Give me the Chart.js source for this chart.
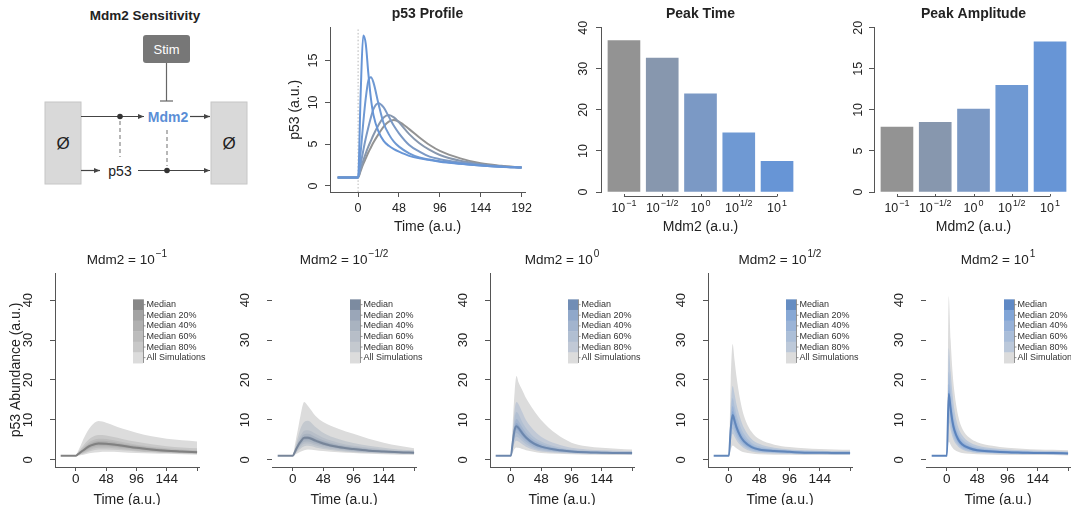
<!DOCTYPE html>
<html>
<head>
<meta charset="utf-8">
<title>Mdm2 sensitivity</title>
<script src="https://cdn.jsdelivr.net/npm/chart.js@4.4.1/dist/chart.umd.min.js"></script>
<style>
  html, body { margin: 0; padding: 0; background: #fff; }
  body { position: relative; width: 1071px; height: 505px; overflow: hidden; font-family: 'Liberation Sans', Arial, sans-serif; }
  canvas, svg { position: absolute; }
</style>
</head>
<body>

<svg id="diagram" width="270" height="235" style="left:0;top:0">
  <defs>
    <marker id="arr" viewBox="0 0 6 6" refX="6" refY="3" markerWidth="6" markerHeight="6" orient="auto" markerUnits="userSpaceOnUse">
      <path d="M0,0.5 L6,3 L0,5.5 z" fill="#444"/>
    </marker>
  </defs>
  <text x="145" y="20" text-anchor="middle" font-weight="bold" font-size="13.5" fill="#222">Mdm2 Sensitivity</text>
  <rect x="143" y="35" width="47" height="28" rx="3" fill="#777"/>
  <text x="166.5" y="54" text-anchor="middle" font-size="13" fill="#fff">Stim</text>
  <line x1="166.5" y1="63" x2="166.5" y2="101" stroke="#666" stroke-width="1.2"/>
  <line x1="160" y1="101" x2="173" y2="101" stroke="#666" stroke-width="1.2"/>
  <rect x="45" y="102" width="36" height="82" fill="#d9d9d9" stroke="#c6c6c6"/>
  <text x="63" y="149" text-anchor="middle" font-size="17" fill="#222">Ø</text>
  <rect x="211" y="102" width="36" height="82" fill="#d9d9d9" stroke="#c6c6c6"/>
  <text x="229" y="149" text-anchor="middle" font-size="17" fill="#222">Ø</text>
  <line x1="81" y1="116.5" x2="144" y2="116.5" stroke="#444" stroke-width="1.2" marker-end="url(#arr)"/>
  <circle cx="120" cy="116.5" r="2.8" fill="#333"/>
  <text x="168" y="121.5" text-anchor="middle" font-weight="bold" font-size="14" fill="#5b8ed6">Mdm2</text>
  <line x1="190" y1="116.5" x2="210" y2="116.5" stroke="#444" stroke-width="1.2" marker-end="url(#arr)"/>
  <line x1="81" y1="170.5" x2="100" y2="170.5" stroke="#444" stroke-width="1.2" marker-end="url(#arr)"/>
  <text x="120" y="175.5" text-anchor="middle" font-size="14" fill="#222">p53</text>
  <line x1="138" y1="170.5" x2="210" y2="170.5" stroke="#444" stroke-width="1.2" marker-end="url(#arr)"/>
  <circle cx="167" cy="170.5" r="2.8" fill="#333"/>
  <line x1="120" y1="121" x2="120" y2="157" stroke="#888" stroke-width="1.2" stroke-dasharray="4 3"/>
  <line x1="167" y1="130" x2="167" y2="166" stroke="#888" stroke-width="1.2" stroke-dasharray="4 3"/>
</svg>

<canvas id="profile" width="270" height="238" style="left:270px;top:0"></canvas>
<canvas id="peakTime" width="265" height="238" style="left:540px;top:0"></canvas>
<canvas id="peakAmp" width="265" height="238" style="left:810px;top:0"></canvas>
<canvas id="band0" width="218" height="270" style="left:0;top:240px"></canvas>
<canvas id="band1" width="218" height="270" style="left:217px;top:240px"></canvas>
<canvas id="band2" width="218" height="270" style="left:435px;top:240px"></canvas>
<canvas id="band3" width="218" height="270" style="left:653px;top:240px"></canvas>
<canvas id="band4" width="218" height="270" style="left:871px;top:240px"></canvas>

<script>
const FONT = "'Liberation Sans', Arial, Helvetica, sans-serif";
Chart.defaults.font.family = FONT;
Chart.defaults.color = '#222';
const AXIS = '#555';

// ---- Mdm2 levels (10^exp) ----
const mdm2Exponents = ['\u22121', '\u22121/2', '0', '1/2', '1'];
const mdm2Colors = ['#939393', '#8797ae', '#7b99c5', '#6f99d3', '#6795d6'];

// ---- bar panels ----
const peakTime = [36.9, 32.6, 23.9, 14.4, 7.5];
const peakAmplitude = [7.9, 8.5, 10.1, 13.0, 18.3];
const peakTimeTicks = [0, 10, 20, 30, 40];
const peakAmpTicks = [0, 5, 10, 15, 20];

// ---- p53 profile (deterministic) ----
const timeTicks = [0, 48, 96, 144, 192];
const profileYTicks = [0, 5, 10, 15];
const stimTime = 0;
const profileTime    = [-24, 0, 3, 6, 9, 12, 15, 18, 24, 30, 36, 42, 48, 60, 72, 84, 96, 120, 144, 168, 192];
const profileNeg1    = [1, 1, 1.8, 2.6, 3.3, 4.0, 4.6, 5.2, 6.2, 7.1, 7.7, 7.9, 7.7, 6.8, 5.8, 4.9, 4.2, 3.3, 2.7, 2.4, 2.2];
const profileNegHalf = [1, 1, 2.0, 3.0, 3.9, 4.7, 5.4, 6.1, 7.3, 8.2, 8.5, 8.2, 7.6, 6.2, 5.1, 4.3, 3.7, 3.0, 2.6, 2.35, 2.2];
const profileZero    = [1, 1, 2.6, 4.2, 5.7, 7.0, 8.2, 9.2, 9.9, 9.4, 8.3, 7.2, 6.3, 4.9, 4.1, 3.5, 3.2, 2.8, 2.5, 2.3, 2.2];
const profileHalf    = [1, 1, 4.0, 7.5, 10.5, 12.6, 13.0, 12.4, 9.8, 7.5, 6.2, 5.3, 4.7, 3.9, 3.4, 3.15, 2.95, 2.65, 2.45, 2.3, 2.2];
const profileOne     = [1, 1, 11.0, 18.0, 17.0, 13.5, 10.5, 8.5, 6.5, 5.4, 4.8, 4.4, 4.1, 3.6, 3.3, 3.1, 2.9, 2.65, 2.45, 2.3, 2.2];

// ---- stochastic simulations: median and quantile bands ----
const bandNames = ['Median', 'Median 20%', 'Median 40%', 'Median 60%', 'Median 80%', 'All Simulations'];
const bandYTicks = [0, 10, 20, 30, 40];
const bandTime = [-24, 0, 3, 6, 9, 12, 18, 24, 36, 48, 72, 96, 120, 144, 168, 192];

const neg1AllHi  = [1, 1, 2.0, 3.0, 4.1, 5.2, 7.0, 8.4, 9.7, 9.3, 7.9, 6.8, 5.9, 5.3, 4.9, 4.6];
const neg1P80Hi  = [1, 1, 1.7, 2.4, 3.0, 3.6, 4.7, 5.5, 6.2, 6.1, 5.3, 4.5, 3.9, 3.4, 3.1, 2.9];
const neg1P60Hi  = [1, 1, 1.6, 2.1, 2.6, 3.1, 4.0, 4.7, 5.3, 5.2, 4.5, 3.8, 3.3, 2.9, 2.6, 2.4];
const neg1P40Hi  = [1, 1, 1.5, 1.9, 2.4, 2.8, 3.6, 4.2, 4.8, 4.7, 4.1, 3.5, 3.0, 2.6, 2.3, 2.2];
const neg1P20Hi  = [1, 1, 1.4, 1.8, 2.2, 2.6, 3.3, 3.9, 4.4, 4.3, 3.8, 3.2, 2.8, 2.4, 2.2, 2.0];
const neg1Median = [1, 1, 1.35, 1.7, 2.1, 2.4, 3.1, 3.6, 4.1, 4.0, 3.6, 3.0, 2.6, 2.3, 2.1, 1.9];
const neg1P20Lo  = [1, 1, 1.3, 1.6, 1.9, 2.2, 2.8, 3.3, 3.8, 3.7, 3.3, 2.8, 2.4, 2.1, 1.9, 1.8];
const neg1P40Lo  = [1, 1, 1.25, 1.5, 1.8, 2.0, 2.5, 3.0, 3.4, 3.4, 3.0, 2.6, 2.2, 2.0, 1.8, 1.7];
const neg1P60Lo  = [1, 1, 1.2, 1.4, 1.6, 1.8, 2.2, 2.6, 3.0, 3.0, 2.7, 2.3, 2.0, 1.8, 1.7, 1.6];
const neg1P80Lo  = [1, 1, 1.15, 1.3, 1.5, 1.6, 1.9, 2.2, 2.6, 2.6, 2.4, 2.1, 1.9, 1.7, 1.6, 1.5];
const neg1AllLo  = [1, 1, 1.05, 1.1, 1.2, 1.3, 1.5, 1.7, 1.9, 2.0, 1.9, 1.7, 1.6, 1.5, 1.4, 1.3];

const negHalfAllHi  = [1, 1, 3.5, 6.0, 8.5, 11.0, 14.5, 13.5, 11.0, 9.5, 7.8, 6.5, 5.3, 4.3, 3.5, 2.9];
const negHalfP80Hi  = [1, 1, 2.6, 4.5, 6.2, 7.8, 9.5, 9.8, 8.2, 6.8, 5.2, 4.2, 3.5, 3.0, 2.6, 2.4];
const negHalfP60Hi  = [1, 1, 2.3, 3.8, 5.0, 6.0, 7.3, 7.4, 6.5, 5.5, 4.3, 3.5, 3.0, 2.6, 2.3, 2.1];
const negHalfP40Hi  = [1, 1, 2.1, 3.4, 4.4, 5.3, 6.4, 6.5, 5.7, 4.9, 3.8, 3.2, 2.7, 2.4, 2.1, 2.0];
const negHalfP20Hi  = [1, 1, 2.0, 3.1, 4.0, 4.8, 5.8, 5.9, 5.2, 4.5, 3.5, 2.9, 2.5, 2.2, 2.0, 1.9];
const negHalfMedian = [1, 1, 1.9, 2.9, 3.8, 4.5, 5.5, 5.5, 4.8, 4.1, 3.2, 2.7, 2.3, 2.1, 1.9, 1.8];
const negHalfP20Lo  = [1, 1, 1.8, 2.7, 3.5, 4.1, 5.0, 5.1, 4.4, 3.8, 3.0, 2.5, 2.2, 2.0, 1.8, 1.7];
const negHalfP40Lo  = [1, 1, 1.7, 2.5, 3.2, 3.7, 4.5, 4.6, 4.0, 3.5, 2.8, 2.3, 2.0, 1.9, 1.7, 1.6];
const negHalfP60Lo  = [1, 1, 1.6, 2.2, 2.8, 3.3, 4.0, 4.1, 3.6, 3.1, 2.5, 2.1, 1.9, 1.7, 1.6, 1.5];
const negHalfP80Lo  = [1, 1, 1.4, 1.9, 2.4, 2.8, 3.4, 3.5, 3.1, 2.7, 2.2, 1.9, 1.7, 1.6, 1.5, 1.4];
const negHalfAllLo  = [1, 1, 1.2, 1.5, 1.8, 2.0, 2.4, 2.6, 2.4, 2.2, 1.9, 1.7, 1.5, 1.4, 1.3, 1.3];

const zeroAllHi  = [1, 1, 9.0, 17.0, 21.0, 19.5, 17.5, 15.5, 12.5, 10.0, 6.5, 4.3, 3.4, 3.0, 2.8, 2.6];
const zeroP80Hi  = [1, 1, 7.0, 12.5, 14.5, 14.0, 12.0, 10.0, 7.5, 5.8, 4.0, 3.0, 2.6, 2.4, 2.3, 2.2];
const zeroP60Hi  = [1, 1, 6.0, 10.5, 12.0, 11.5, 9.5, 8.0, 5.8, 4.6, 3.3, 2.6, 2.3, 2.1, 2.0, 2.0];
const zeroP40Hi  = [1, 1, 5.3, 9.0, 10.2, 9.8, 8.2, 6.8, 5.0, 4.0, 2.9, 2.4, 2.1, 2.0, 1.9, 1.9];
const zeroP20Hi  = [1, 1, 4.8, 8.2, 9.2, 8.8, 7.4, 6.1, 4.5, 3.6, 2.7, 2.3, 2.0, 1.9, 1.8, 1.8];
const zeroMedian = [1, 1, 4.4, 7.5, 8.4, 8.0, 6.7, 5.6, 4.1, 3.3, 2.5, 2.1, 1.9, 1.8, 1.7, 1.7];
const zeroP20Lo  = [1, 1, 4.0, 6.8, 7.6, 7.2, 6.0, 5.0, 3.7, 3.0, 2.3, 2.0, 1.8, 1.7, 1.6, 1.6];
const zeroP40Lo  = [1, 1, 3.6, 6.0, 6.7, 6.4, 5.4, 4.5, 3.3, 2.7, 2.1, 1.9, 1.7, 1.6, 1.6, 1.5];
const zeroP60Lo  = [1, 1, 3.1, 5.2, 5.8, 5.6, 4.7, 3.9, 2.9, 2.4, 2.0, 1.7, 1.6, 1.5, 1.5, 1.4];
const zeroP80Lo  = [1, 1, 2.6, 4.3, 4.8, 4.6, 3.9, 3.3, 2.5, 2.1, 1.8, 1.6, 1.5, 1.4, 1.4, 1.3];
const zeroAllLo  = [1, 1, 1.8, 2.8, 3.1, 3.0, 2.7, 2.4, 2.0, 1.7, 1.5, 1.4, 1.3, 1.3, 1.2, 1.2];

const halfAllHi  = [1, 1, 20.0, 29.0, 25.0, 21.0, 15.0, 11.0, 7.0, 5.2, 3.8, 3.2, 2.9, 2.7, 2.6, 2.5];
const halfP80Hi  = [1, 1, 13.0, 18.5, 16.5, 14.0, 10.5, 8.0, 5.2, 4.0, 3.0, 2.6, 2.4, 2.3, 2.2, 2.2];
const halfP60Hi  = [1, 1, 11.0, 15.5, 13.5, 11.5, 8.5, 6.5, 4.3, 3.4, 2.7, 2.4, 2.2, 2.1, 2.0, 2.0];
const halfP40Hi  = [1, 1, 9.5, 13.5, 11.8, 10.0, 7.3, 5.6, 3.8, 3.0, 2.5, 2.2, 2.0, 1.9, 1.9, 1.9];
const halfP20Hi  = [1, 1, 8.5, 12.2, 10.7, 9.0, 6.6, 5.0, 3.5, 2.8, 2.3, 2.1, 1.9, 1.8, 1.8, 1.8];
const halfMedian = [1, 1, 7.8, 11.2, 9.8, 8.2, 6.0, 4.6, 3.2, 2.6, 2.2, 2.0, 1.8, 1.8, 1.7, 1.7];
const halfP20Lo  = [1, 1, 7.0, 10.2, 8.9, 7.5, 5.5, 4.2, 3.0, 2.4, 2.0, 1.9, 1.7, 1.7, 1.6, 1.6];
const halfP40Lo  = [1, 1, 6.2, 9.0, 7.9, 6.7, 4.9, 3.8, 2.7, 2.2, 1.9, 1.8, 1.6, 1.6, 1.5, 1.5];
const halfP60Lo  = [1, 1, 5.3, 7.8, 6.9, 5.8, 4.3, 3.4, 2.4, 2.0, 1.8, 1.6, 1.5, 1.5, 1.4, 1.4];
const halfP80Lo  = [1, 1, 4.3, 6.5, 5.8, 4.9, 3.7, 2.9, 2.1, 1.8, 1.6, 1.5, 1.4, 1.4, 1.3, 1.3];
const halfAllLo  = [1, 1, 2.5, 3.6, 3.3, 2.9, 2.3, 1.9, 1.6, 1.4, 1.3, 1.3, 1.2, 1.2, 1.2, 1.2];

const oneAllHi  = [1, 1, 41.0, 30.0, 22.0, 17.0, 11.0, 8.0, 5.5, 4.4, 3.5, 3.0, 2.8, 2.6, 2.5, 2.4];
const oneP80Hi  = [1, 1, 28.0, 22.0, 16.5, 12.5, 8.2, 6.2, 4.4, 3.6, 2.9, 2.6, 2.4, 2.3, 2.2, 2.1];
const oneP60Hi  = [1, 1, 22.0, 17.5, 13.0, 10.0, 6.8, 5.2, 3.8, 3.1, 2.6, 2.3, 2.2, 2.1, 2.0, 1.9];
const oneP40Hi  = [1, 1, 19.0, 15.0, 11.3, 8.8, 6.0, 4.6, 3.4, 2.8, 2.4, 2.2, 2.0, 1.9, 1.9, 1.8];
const oneP20Hi  = [1, 1, 17.5, 13.8, 10.3, 8.0, 5.5, 4.2, 3.1, 2.6, 2.2, 2.0, 1.9, 1.8, 1.8, 1.7];
const oneMedian = [1, 1, 16.5, 12.8, 9.5, 7.4, 5.1, 3.9, 2.9, 2.4, 2.1, 1.9, 1.8, 1.7, 1.7, 1.6];
const oneP20Lo  = [1, 1, 15.0, 11.7, 8.7, 6.8, 4.7, 3.6, 2.7, 2.3, 2.0, 1.8, 1.7, 1.6, 1.6, 1.5];
const oneP40Lo  = [1, 1, 13.5, 10.5, 7.8, 6.1, 4.3, 3.3, 2.5, 2.1, 1.9, 1.7, 1.6, 1.5, 1.5, 1.5];
const oneP60Lo  = [1, 1, 11.5, 9.0, 6.8, 5.3, 3.8, 2.9, 2.3, 1.9, 1.7, 1.6, 1.5, 1.5, 1.4, 1.4];
const oneP80Lo  = [1, 1, 9.5, 7.5, 5.7, 4.5, 3.3, 2.6, 2.0, 1.7, 1.6, 1.5, 1.4, 1.4, 1.3, 1.3];
const oneAllLo  = [1, 1, 4.5, 3.8, 3.0, 2.5, 2.0, 1.7, 1.5, 1.4, 1.3, 1.2, 1.2, 1.2, 1.2, 1.1];

// ---- helpers ----
const pts = (xs, ys) => xs.map((x, i) => ({ x, y: ys[i] }));
const asTicks = vals => s => { s.ticks = vals.map(v => ({ value: v })); };

function hexToRgb(h) {
    const n = parseInt(h.slice(1), 16);
    return [n >> 16, (n >> 8) & 255, n & 255];
}
function mix(h, target, t) {
    const a = hexToRgb(h), b = hexToRgb(target);
    return 'rgb(' + a.map((v, i) => Math.round(v + (b[i] - v) * t)).join(',') + ')';
}

// text with a raised exponent, centred on cx
function drawPower(ctx, base, exp, cx, cy, size, weight) {
    const w = weight || 'normal';
    const big = `${w} ${size}px ${FONT}`;
    const small = `${w} ${Math.round(size * 0.72)}px ${FONT}`;
    ctx.save();
    ctx.fillStyle = '#222';
    ctx.textBaseline = 'middle';
    ctx.textAlign = 'left';
    ctx.font = big;
    const w1 = ctx.measureText(base).width;
    ctx.font = small;
    const w2 = ctx.measureText(exp).width;
    const x0 = cx - (w1 + 1 + w2) / 2;
    ctx.font = big;
    ctx.fillText(base, x0, cy);
    ctx.font = small;
    ctx.fillText(exp, x0 + w1 + 1, cy - size * 0.42);
    ctx.restore();
}

const panelDecor = {
    id: 'panelDecor',
    afterDraw(chart, args, o) {
        const { ctx, chartArea: a, scales: { x, y } } = chart;
        if (o.title) {
            drawPower(ctx, o.title.base, o.title.exp, (a.left + a.right) / 2, o.title.y, o.title.size);
        }
        if (o.powerTicks) {
            // R-style axis line from first to last bar
            ctx.save();
            ctx.strokeStyle = AXIS;
            ctx.lineWidth = 1;
            ctx.beginPath();
            ctx.moveTo(x.getPixelForValue(1), a.bottom + 4.5);
            ctx.lineTo(x.getPixelForValue(o.powerTicks.length), a.bottom + 4.5);
            o.powerTicks.forEach((e, i) => {
                const px = Math.round(x.getPixelForValue(i + 1)) + 0.5;
                ctx.moveTo(px, a.bottom + 4.5);
                ctx.lineTo(px, a.bottom + 2);
            });
            ctx.stroke();
            ctx.restore();
            o.powerTicks.forEach((e, i) => drawPower(ctx, '10', e, x.getPixelForValue(i + 1), a.bottom + 17, 12.5));
        }
        if (o.legend) {
            const left = Math.round(x.getPixelForValue(90));
            const top = y.getPixelForValue(40.2);
            const rowH = 10.6;
            ctx.save();
            o.legend.forEach((c, i) => {
                ctx.fillStyle = c;
                ctx.fillRect(left, top + i * rowH, 10, rowH + 0.5);
            });
            ctx.strokeStyle = '#777';
            ctx.lineWidth = 0.8;
            ctx.beginPath();
            ctx.moveTo(left + 10.5, top);
            ctx.lineTo(left + 10.5, top + bandNames.length * rowH);
            bandNames.forEach((n, i) => {
                ctx.moveTo(left + 10.5, top + (i + 0.5) * rowH);
                ctx.lineTo(left + 12.5, top + (i + 0.5) * rowH);
            });
            ctx.stroke();
            ctx.fillStyle = '#333';
            ctx.font = `9px ${FONT}`;
            ctx.textBaseline = 'middle';
            bandNames.forEach((n, i) => ctx.fillText(n, left + 13.5, top + (i + 0.5) * rowH));
            ctx.restore();
        }
    }
};

function yScale({ min, max, ticks, width, pad, size, title, titlePad, border = true }) {
    return {
        type: 'linear', min, max,
        afterBuildTicks: asTicks(ticks),
        afterFit: s => { s.width = width; },
        border: { display: border, color: AXIS },
        grid: { drawOnChartArea: false, tickLength: 5, color: AXIS },
        ticks: { minRotation: 90, maxRotation: 90, crossAlign: 'center', padding: pad, font: { size }, color: '#222' },
        title: title
            ? { display: true, text: title, font: { size: 14 }, color: '#222', padding: { top: titlePad, bottom: 0 } }
            : { display: false }
    };
}

const baseOptions = {
    responsive: false,
    maintainAspectRatio: false,
    devicePixelRatio: 1,
    animation: false,
    events: [],
    plugins: { legend: { display: false }, tooltip: { enabled: false } }
};

// ---- p53 profile ----
const profileSeries = [profileNeg1, profileNegHalf, profileZero, profileHalf, profileOne];
new Chart(document.getElementById('profile'), {
    type: 'line',
    data: {
        datasets: [
            ...profileSeries.map((s, i) => ({ data: pts(profileTime, s), borderColor: mdm2Colors[i], borderWidth: 2 })).reverse(),
            { data: pts([stimTime, stimTime], [-0.73, 18.93]), borderColor: '#b5b5b5', borderWidth: 1, borderDash: [1.5, 2] }
        ]
    },
    options: {
        ...baseOptions,
        layout: { padding: { left: 0, right: 15, top: 0, bottom: 0 } },
        elements: { point: { radius: 0 }, line: { cubicInterpolationMode: 'monotone', fill: false } },
        plugins: {
            ...baseOptions.plugins,
            title: { display: true, fullSize: false, text: 'p53 Profile', color: '#222', font: { size: 14, weight: 'bold' }, padding: { top: 6, bottom: 5 } }
        },
        scales: {
            x: {
                type: 'linear', min: -33, max: 196,
                afterBuildTicks: asTicks(timeTicks),
                afterFit: s => { s.height = 46; },
                border: { color: AXIS },
                grid: { drawOnChartArea: false, tickLength: 5, color: AXIS },
                ticks: { maxRotation: 0, padding: 4, font: { size: 12.5 }, color: '#222' },
                title: { display: true, text: 'Time (a.u.)', font: { size: 14 }, color: '#222', padding: { top: 0, bottom: 2 } }
            },
            y: yScale({ min: -0.73, max: 18.93, ticks: profileYTicks, width: 60, pad: 5, size: 12.5, title: 'p53 (a.u.)', titlePad: 17 })
        }
    }
});

// ---- peak bar charts ----
function barChart(id, title, values, yMax, yTicks, yWidth, yPad, rightPad) {
    new Chart(document.getElementById(id), {
        type: 'bar',
        data: {
            datasets: [{
                data: values.map((v, i) => ({ x: i + 1, y: v })),
                backgroundColor: mdm2Colors,
                borderWidth: 0,
                barThickness: 32
            }]
        },
        plugins: [panelDecor],
        options: {
            ...baseOptions,
            layout: { padding: { left: 0, right: rightPad, top: 0, bottom: 0 } },
            plugins: {
                ...baseOptions.plugins,
                title: { display: true, fullSize: false, text: title, color: '#222', font: { size: 14, weight: 'bold' }, padding: { top: 6, bottom: 5 } },
                panelDecor: { powerTicks: mdm2Exponents }
            },
            scales: {
                x: {
                    type: 'linear', min: 0.4, max: 5.6, offset: false,
                    afterBuildTicks: asTicks([1, 2, 3, 4, 5]),
                    afterFit: s => { s.height = 46; },
                    border: { display: false },
                    grid: { display: false, offset: false },
                    ticks: { callback: () => '', padding: 0 },
                    title: { display: true, text: 'Mdm2 (a.u.)', font: { size: 14 }, color: '#222', padding: { top: 0, bottom: 2 } }
                },
                y: yScale({ min: 0, max: yMax, ticks: yTicks, width: yWidth, pad: yPad, size: 12.5 })
            }
        }
    });
}
barChart('peakTime', 'Peak Time', peakTime, 40, peakTimeTicks, 61, 6, 5);
barChart('peakAmp', 'Peak Amplitude', peakAmplitude, 20, peakAmpTicks, 64, 4, 2);

// ---- simulation band panels ----
const bandPanels = [
    { median: neg1Median, bands: [[neg1P20Lo, neg1P20Hi], [neg1P40Lo, neg1P40Hi], [neg1P60Lo, neg1P60Hi], [neg1P80Lo, neg1P80Hi], [neg1AllLo, neg1AllHi]], yTitle: 'p53 Abundance (a.u.)', yBorder: true },
    { median: negHalfMedian, bands: [[negHalfP20Lo, negHalfP20Hi], [negHalfP40Lo, negHalfP40Hi], [negHalfP60Lo, negHalfP60Hi], [negHalfP80Lo, negHalfP80Hi], [negHalfAllLo, negHalfAllHi]], yBorder: false },
    { median: zeroMedian, bands: [[zeroP20Lo, zeroP20Hi], [zeroP40Lo, zeroP40Hi], [zeroP60Lo, zeroP60Hi], [zeroP80Lo, zeroP80Hi], [zeroAllLo, zeroAllHi]], yBorder: true },
    { median: halfMedian, bands: [[halfP20Lo, halfP20Hi], [halfP40Lo, halfP40Hi], [halfP60Lo, halfP60Hi], [halfP80Lo, halfP80Hi], [halfAllLo, halfAllHi]], yBorder: true },
    { median: oneMedian, bands: [[oneP20Lo, oneP20Hi], [oneP40Lo, oneP40Hi], [oneP60Lo, oneP60Hi], [oneP80Lo, oneP80Hi], [oneAllLo, oneAllHi]], yBorder: false }
];

bandPanels.forEach((p, idx) => {
    const base = mdm2Colors[idx];
    const shades = [
        mix(base, '#000000', 0.08),
        mix(base, '#dcdcdc', 0.22),
        mix(base, '#dcdcdc', 0.40),
        mix(base, '#dcdcdc', 0.56),
        mix(base, '#dcdcdc', 0.72),
        '#dcdcdc'
    ];
    const datasets = [{ data: pts(bandTime, p.median), borderColor: mix(base, '#000000', 0.12), borderWidth: 2, fill: false }];
    p.bands.forEach(([lo, hi], i) => {
        datasets.push({ data: pts(bandTime, hi), borderWidth: 0, borderColor: 'rgba(0,0,0,0)', backgroundColor: shades[i + 1], fill: '+1' });
        datasets.push({ data: pts(bandTime, lo), borderWidth: 0, borderColor: 'rgba(0,0,0,0)', fill: false });
    });

    new Chart(document.getElementById('band' + idx), {
        type: 'line',
        data: { datasets },
        plugins: [panelDecor],
        options: {
            ...baseOptions,
            layout: { padding: { left: 0, right: 19, top: 33, bottom: 0 } },
            elements: { point: { radius: 0 }, line: { cubicInterpolationMode: 'monotone' } },
            plugins: {
                ...baseOptions.plugins,
                panelDecor: { title: { base: 'Mdm2 = 10', exp: mdm2Exponents[idx], y: 20, size: 13.5 }, legend: shades }
            },
            scales: {
                x: {
                    type: 'linear', min: -33, max: 195,
                    afterBuildTicks: asTicks(timeTicks),
                    afterFit: s => { s.height = 43; },
                    border: { color: AXIS },
                    grid: { drawOnChartArea: false, tickLength: 4, color: AXIS },
                    ticks: { maxRotation: 0, padding: 0, font: { size: 13.5 }, color: '#222', callback: v => (v === 192 ? '' : v) },
                    title: { display: true, text: 'Time (a.u.)', font: { size: 14 }, color: '#222', padding: { top: 0, bottom: 1 } }
                },
                y: yScale({ min: -1.8, max: 46.8, ticks: bandYTicks, width: 55, pad: 14, size: 13, title: p.yTitle, titlePad: 8, border: p.yBorder })
            }
        }
    });
});
</script>
</body>
</html>
